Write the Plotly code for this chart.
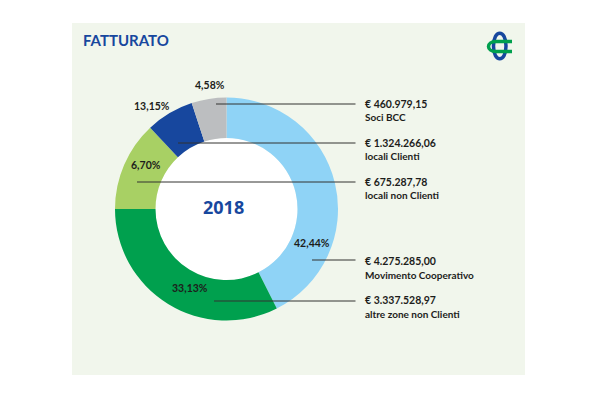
import plotly.graph_objects as go

W = 600
H = 400
PAGE_MARGIN = 8  # the page body pushes the figure in by this much

# clockwise from 12 o'clock, shares as drawn in the ring (%)
labels = ["Movimento Cooperativo", "altre zone non Clienti", "locali Clienti", "locali non Clienti", "Soci BCC"]
values = [42.55, 32.45, 13.0, 6.95, 5.05]
colors = ["#8fd3f6", "#00a04e", "#a8d064", "#17479e", "#bcbec0"]

# note text, y of the leader line, x where it starts
notes = [
    ("€ 460.979,15", "Soci BCC", 104, 216, 104, 117),
    ("€ 1.324.266,06", "locali Clienti", 143, 178, 143, 156),
    ("€ 675.287,78", "locali non Clienti", 182, 137, 182, 195),
    ("€ 4.275.285,00", "Movimento Cooperativo", 260, 312, 261, 274.5),
    ("€ 3.337.528,97", "altre zone non Clienti", 301, 214, 300, 314),
]

percents = [
    ("4,58%", 209.5, 85),
    ("13,15%", 152, 106),
    ("6,70%", 145.5, 165),
    ("42,44%", 312, 243),
    ("33,13%", 190, 287.5),
]

BOLD = "Lato"
INK = "#1d1d1b"


def px(x):
    return (x - PAGE_MARGIN) / W


def py(y):
    return 1 - (y - PAGE_MARGIN) / H


cx, cy, r_out, r_in = 226.5, 209, 111.5, 71

fig = go.Figure()
fig.add_trace(go.Pie(
    labels=labels,
    values=values,
    marker=dict(colors=colors, line=dict(width=0)),
    hole=r_in / r_out,
    sort=False,
    direction="clockwise",
    rotation=0,
    textinfo="none",
    hoverinfo="label",
    showlegend=False,
    domain=dict(x=[px(cx - r_out), px(cx + r_out)], y=[py(cy + r_out), py(cy - r_out)]),
))

shapes = [
    dict(type="rect", xref="paper", yref="paper", x0=px(72), x1=px(525), y0=py(375), y1=py(23),
         fillcolor="#f1f6ec", line_width=0, layer="below"),
    dict(type="circle", xref="paper", yref="paper", x0=px(cx - r_in), x1=px(cx + r_in),
         y0=py(cy + r_in), y1=py(cy - r_in), fillcolor="white", line_width=0, layer="below"),
]

annotations = []


def add_text(text, x, y, size, color=INK, anchor="left", font=BOLD):
    annotations.append(dict(text=text, x=px(x), y=py(y), xref="paper", yref="paper",
                            xanchor=anchor, yanchor="middle", showarrow=False,
                            font=dict(family=font, size=size, color=color, weight="bold")))


for top, bottom, line_y, line_x, top_y, bottom_y in notes:
    shapes.append(dict(type="line", xref="paper", yref="paper", x0=px(line_x), x1=px(355.5),
                       y0=py(line_y), y1=py(line_y), line=dict(color="#333331", width=1)))
    add_text(top, 362.5, top_y, 10.5)
    add_text(bottom, 362.5, bottom_y, 10)

for text, x, y in percents:
    add_text(text, x, y, 10.5, anchor="center")

add_text("FATTURATO", 80.5, 40, 15, color="#17479e")
add_text("2018", 223.5, 207, 18, color="#17479e", anchor="center", font="Open Sans")

# logo: blue upright link with a green c across it
shapes.append(dict(type="path", xref="paper", yref="paper", layer="above",
                   path=f"M {px(493.5)} {py(46)} C {px(493.5)} {py(29)} {px(506)} {py(29)} {px(506)} {py(46)} "
                        f"C {px(506)} {py(63)} {px(493.5)} {py(63)} {px(493.5)} {py(46)}",
                   line=dict(color="#17479e", width=3.5)))
shapes.append(dict(type="path", xref="paper", yref="paper", layer="above",
                   path=f"M {px(512)} {py(41.5)} L {px(496)} {py(41.5)} "
                        f"C {px(486)} {py(41.5)} {px(486)} {py(51.5)} {px(496)} {py(51.5)} L {px(512)} {py(51.5)}",
                   line=dict(color="#00a04e", width=3.5)))

fig.update_layout(
    width=W,
    height=H,
    margin=dict(l=0, r=0, t=0, b=0),
    paper_bgcolor="white",
    plot_bgcolor="white",
    shapes=shapes,
    annotations=annotations,
)

fig.write_html("out.html")
